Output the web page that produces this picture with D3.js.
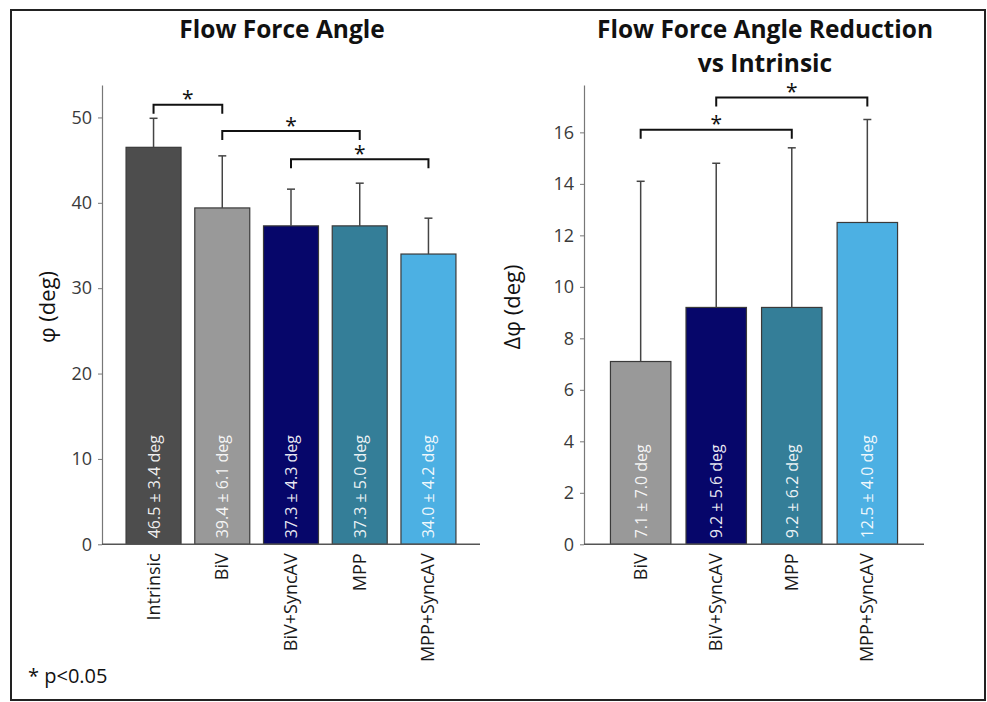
<!DOCTYPE html>
<html>
<head>
<meta charset="utf-8">
<script src="https://cdn.jsdelivr.net/npm/d3@7"></script>
<style>
  body { margin: 0; background: #fff; }
  svg { display: block; font-family: "Open Sans", "Noto Sans", sans-serif; }
</style>
</head>
<body>
<script>
// left panel data
var leftCats = ["Intrinsic", "BiV", "BiV+SyncAV", "MPP", "MPP+SyncAV"];
var leftMeans = [46.5, 39.4, 37.3, 37.3, 34.0];
var leftSds = [3.4, 6.1, 4.3, 5.0, 4.2];
var leftColors = ["#4d4d4d", "#999999", "#06066a", "#347e98", "#4cb0e3"];
var leftTicks = [0, 10, 20, 30, 40, 50];
// significance pairs: [from index, to index, bracket level in data units]
var leftSig = [[0, 1, 51.5], [1, 3, 48.4], [2, 4, 45.1]];

// right panel data
var rightCats = ["BiV", "BiV+SyncAV", "MPP", "MPP+SyncAV"];
var rightMeans = [7.1, 9.2, 9.2, 12.5];
var rightSds = [7.0, 5.6, 6.2, 4.0];
var rightColors = ["#999999", "#06066a", "#347e98", "#4cb0e3"];
var rightTicks = [0, 2, 4, 6, 8, 10, 12, 14, 16];
var rightSig = [[0, 2, 16.1], [1, 3, 17.35]];

var width = 987, height = 702;

var svg = d3.select("body").append("svg")
  .attr("width", width)
  .attr("height", height);

// outer frame
svg.append("rect")
  .attr("x", 11).attr("y", 10)
  .attr("width", 974).attr("height", 690)
  .attr("fill", "none")
  .attr("stroke", "#222")
  .attr("stroke-width", 2);

function drawPanel(opt) {
  var g = svg.append("g");
  var x = d3.scaleBand()
    .domain(opt.cats)
    .range([opt.x0, opt.x1])
    .paddingInner(0.2)
    .paddingOuter(0.35);
  var y = d3.scaleLinear()
    .domain(opt.domain)
    .range([544.3, 85]);

  // y axis
  var yAxis = g.append("g")
    .attr("transform", "translate(" + opt.x0 + ",0)")
    .call(d3.axisLeft(y).tickValues(opt.ticks).tickSize(4).tickPadding(6).tickSizeOuter(0));
  yAxis.select(".domain").attr("stroke", "#777").attr("stroke-width", 1.2);
  yAxis.selectAll(".tick line").attr("stroke", "#777");
  yAxis.selectAll(".tick text")
    .attr("fill", "#3a3a3a")
    .style("font-size", "18px")
    .style("font-family", "'Open Sans', sans-serif");

  // bars
  var bars = g.selectAll(".bar")
    .data(opt.cats)
    .enter().append("g");
  bars.append("rect")
    .attr("x", (d) => x(d))
    .attr("width", x.bandwidth())
    .attr("y", (d, i) => y(opt.means[i]))
    .attr("height", (d, i) => y(0) - y(opt.means[i]))
    .attr("fill", (d, i) => opt.colors[i])
    .attr("stroke", "#3a3a3a")
    .attr("stroke-width", 1.2);

  // error bars (upper only)
  bars.append("line")
    .attr("x1", (d) => x(d) + x.bandwidth() / 2)
    .attr("x2", (d) => x(d) + x.bandwidth() / 2)
    .attr("y1", (d, i) => y(opt.means[i]))
    .attr("y2", (d, i) => y(opt.means[i] + opt.sds[i]))
    .attr("stroke", "#444")
    .attr("stroke-width", 1.5);
  bars.append("line")
    .attr("x1", (d) => x(d) + x.bandwidth() / 2 - 4)
    .attr("x2", (d) => x(d) + x.bandwidth() / 2 + 4)
    .attr("y1", (d, i) => y(opt.means[i] + opt.sds[i]))
    .attr("y2", (d, i) => y(opt.means[i] + opt.sds[i]))
    .attr("stroke", "#444")
    .attr("stroke-width", 1.5);

  // value labels inside bars
  bars.append("text")
    .attr("transform", (d, i) => "translate(" + (x(d) + x.bandwidth() / 2 + 6) + "," + (y(0) - 6) + ") rotate(-90)")
    .attr("fill", "#fff")
    .attr("fill-opacity", 0.92)
    .style("font-size", "16px")
    .text((d, i) => opt.means[i].toFixed(1) + " \u00b1 " + opt.sds[i].toFixed(1) + " deg");

  // x axis baseline
  g.append("line")
    .attr("x1", opt.x0).attr("x2", opt.x1)
    .attr("y1", y(0)).attr("y2", y(0))
    .attr("stroke", "#555")
    .attr("stroke-width", 1.6);

  // category labels
  g.selectAll(".cat")
    .data(opt.cats)
    .enter().append("text")
    .attr("transform", (d) => "translate(" + (x(d) + x.bandwidth() / 2 + 6) + "," + (y(0) + 9) + ") rotate(-90)")
    .attr("text-anchor", "end")
    .attr("fill", "#1a1a1a")
    .style("font-size", "18px")
    .text((d) => d);

  // significance brackets
  opt.sig.forEach(function (s) {
    var xa = x(opt.cats[s[0]]) + x.bandwidth() / 2;
    var xb = x(opt.cats[s[1]]) + x.bandwidth() / 2;
    var yy = y(s[2]);
    g.append("path")
      .attr("d", "M" + xa + "," + (yy + 9) + "V" + yy + "H" + xb + "V" + (yy + 9))
      .attr("fill", "none")
      .attr("stroke", "#111")
      .attr("stroke-width", 2);
    g.append("text")
      .attr("x", (xa + xb) / 2)
      .attr("y", yy + 1.5)
      .attr("text-anchor", "middle")
      .attr("fill", "#111")
      .style("font-size", "21px")
      .text("*");
  });

  // y label
  g.append("text")
    .attr("transform", "translate(" + opt.ylabelX + ",307) rotate(-90)")
    .attr("text-anchor", "middle")
    .attr("fill", "#111")
    .style("font-size", "22px")
    .text(opt.ylabel);

  // title
  var t = g.append("text")
    .attr("x", opt.titleX)
    .attr("text-anchor", "middle")
    .attr("fill", "#111")
    .style("font-size", "24.5px")
    .style("font-weight", 700);
  opt.title.forEach(function (line, i) {
    t.append("tspan").attr("x", opt.titleX).attr("y", 38 + i * 34).text(line);
  });
}

drawPanel({
  cats: leftCats, means: leftMeans, sds: leftSds, colors: leftColors,
  ticks: leftTicks, sig: leftSig, domain: [0, 53.8],
  x0: 102, x1: 480, ylabelX: 55, ylabel: "\u03c6 (deg)",
  titleX: 282, title: ["Flow Force Angle"]
});

drawPanel({
  cats: rightCats, means: rightMeans, sds: rightSds, colors: rightColors,
  ticks: rightTicks, sig: rightSig, domain: [0, 17.84],
  x0: 584, x1: 924, ylabelX: 520, ylabel: "\u0394\u03c6 (deg)",
  titleX: 765, title: ["Flow Force Angle Reduction", "vs Intrinsic"]
});

// footnote
svg.append("text")
  .attr("x", 28)
  .attr("y", 683)
  .attr("fill", "#111")
  .style("font-size", "20px")
  .text("* p<0.05");
</script>
</body>
</html>
